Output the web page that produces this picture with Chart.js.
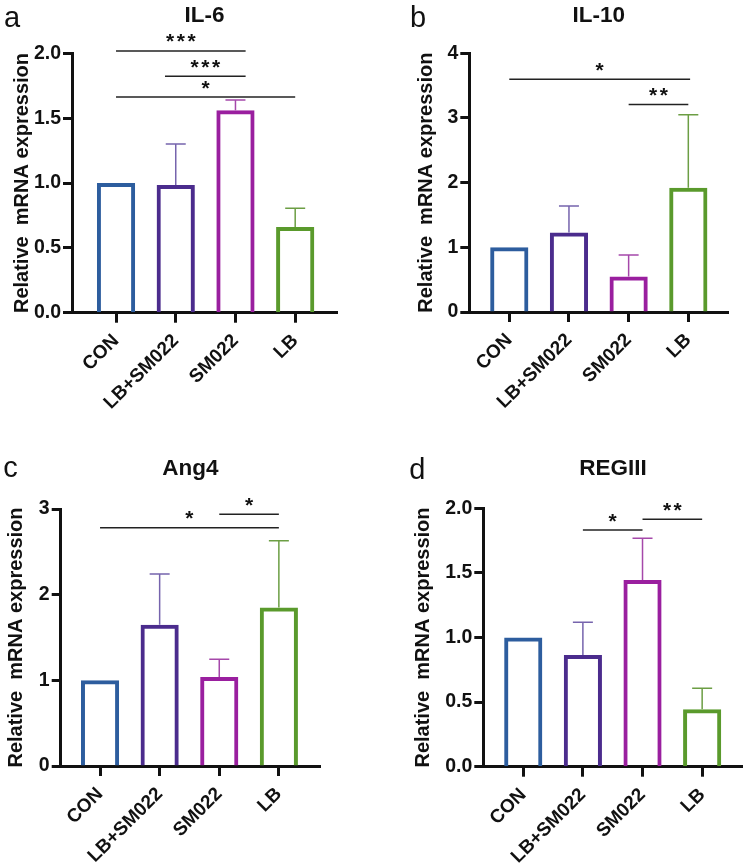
<!DOCTYPE html>
<html><head><meta charset="utf-8">
<script src="https://cdn.jsdelivr.net/npm/chart.js@4.4.1/dist/chart.umd.min.js"></script>
<style>
html,body{margin:0;padding:0;background:#fff;}
#wrap{position:relative;width:749px;height:868px;background:#fff;}
canvas{position:absolute;display:block;}
</style></head><body>
<div id="wrap">
<canvas id="cA" width="374" height="434" style="left:0;top:0;width:374px;height:434px"></canvas>
<canvas id="cB" width="375" height="434" style="left:374px;top:0;width:375px;height:434px"></canvas>
<canvas id="cC" width="374" height="434" style="left:0;top:434px;width:374px;height:434px"></canvas>
<canvas id="cD" width="375" height="434" style="left:374px;top:434px;width:375px;height:434px"></canvas>
</div>
<script>
// ---------- data ----------
const categories = ['CON', 'LB+SM022', 'SM022', 'LB'];

const il6Mean = [1.00, 0.985, 1.56, 0.66];
const il6Err  = [0, 0.315, 0.08, 0.145];
const il6YTicks = ['0.0', '0.5', '1.0', '1.5', '2.0'];
// [from index, to index, bracket level (y units), label]
const il6Sig = [[0, 2.17, 2.018, '***'], [0.82, 2.17, 1.823, '***'], [0, 3, 1.663, '*']];

const il10Mean = [1.00, 1.23, 0.55, 1.92];
const il10Err  = [0, 0.41, 0.33, 1.13];
const il10YTicks = ['0', '1', '2', '3', '4'];
const il10Sig = [[0, 3.03, 3.60, '*'], [2, 3, 3.21, '**']];

const ang4Mean = [1.00, 1.65, 1.04, 1.85];
const ang4Err  = [0, 0.59, 0.205, 0.78];
const ang4YTicks = ['0', '1', '2', '3'];
const ang4Sig = [[0, 3, 2.78, '*'], [2, 3, 2.94, '*']];

const reg3Mean = [1.00, 0.865, 1.445, 0.445];
const reg3Err  = [0, 0.253, 0.323, 0.162];
const reg3YTicks = ['0.0', '0.5', '1.0', '1.5', '2.0'];
const reg3Sig = [[1, 2, 1.832, '*'], [2, 3, 1.915, '**']];

// ---------- style ----------
const FONT = "'Liberation Sans', Arial, sans-serif";
const barColors = ['#2d5d9e', '#4b2c8d', '#9a1f9f', '#5a9a2c'];
const errColors = ['#2d5d9e', '#7664ad', '#a548aa', '#6c9e44'];
const INK = '#111111';

const panels = [
  {id:'cA', letter:'a', title:'IL-6', mean:il6Mean, err:il6Err, yTicks:il6YTicks, sig:il6Sig,
   pad:{left:72, right:37, top:53.3, bottom:121.3}, xMin:-0.737, xMax:3.70,
   letterPos:[4, 27], titleY:21.7, yTitleMid:22},
  {id:'cB', letter:'b', title:'IL-10', mean:il10Mean, err:il10Err, yTicks:il10YTicks, sig:il10Sig,
   pad:{left:95.3, right:20.7, top:53.3, bottom:122}, xMin:-0.67, xMax:3.67,
   letterPos:[36, 26.7], titleY:21.7, yTitleMid:52.5},
  {id:'cC', letter:'c', title:'Ang4', mean:ang4Mean, err:ang4Err, yTicks:ang4YTicks, sig:ang4Sig,
   pad:{left:60.7, right:54, top:75, bottom:102}, xMin:-0.66, xMax:3.69,
   letterPos:[3.3, 42.7], titleY:41, yTitleMid:16.5},
  {id:'cD', letter:'d', title:'REGIII', mean:reg3Mean, err:reg3Err, yTicks:reg3YTicks, sig:reg3Sig,
   pad:{left:109.3, right:6.3, top:74.3, bottom:101.3}, xMin:-0.67, xMax:3.68,
   letterPos:[35.3, 45], titleY:41, yTitleMid:49.2}
];

function makePlugin(p) {
  return {
    id: 'annot_' + p.id,
    beforeDatasetsDraw(chart) {
      const ctx = chart.ctx, xs = chart.scales.x, ys = chart.scales.y;
      ctx.save();
      ctx.lineWidth = 1.5;
      p.mean.forEach((m, i) => {
        if (!p.err[i]) return;
        const x = xs.getPixelForValue(i);
        const y0 = ys.getPixelForValue(m);
        const y1 = ys.getPixelForValue(m + p.err[i]);
        ctx.strokeStyle = errColors[i];
        ctx.beginPath();
        ctx.moveTo(x, y0); ctx.lineTo(x, y1);
        ctx.moveTo(x - 10, y1); ctx.lineTo(x + 10, y1);
        ctx.stroke();
      });
      ctx.restore();
    },
    afterDraw(chart) {
      const ctx = chart.ctx, xs = chart.scales.x, ys = chart.scales.y, ca = chart.chartArea;
      ctx.save();
      // significance brackets
      ctx.strokeStyle = '#222';
      ctx.lineWidth = 1.5;
      p.sig.forEach(s => {
        const x1 = xs.getPixelForValue(s[0]), x2 = xs.getPixelForValue(s[1]);
        const y = ys.getPixelForValue(s[2]);
        ctx.beginPath(); ctx.moveTo(x1, y); ctx.lineTo(x2, y); ctx.stroke();
        ctx.fillStyle = INK;
        ctx.font = 'bold 21px ' + FONT;
        ctx.letterSpacing = '2.5px';
        ctx.textAlign = 'center';
        ctx.textBaseline = 'alphabetic';
        ctx.fillText(s[3], (x1 + x2) / 2 + 1.25, y - 2.5);
        ctx.letterSpacing = '0px';
      });
      // title
      ctx.fillStyle = INK;
      ctx.font = 'bold 22.5px ' + FONT;
      ctx.textAlign = 'center';
      ctx.textBaseline = 'alphabetic';
      ctx.fillText(p.title, (ca.left + ca.right) / 2, p.titleY);
      // panel letter
      ctx.font = '29px ' + FONT;
      ctx.textAlign = 'left';
      ctx.fillText(p.letter, p.letterPos[0], p.letterPos[1]);
      ctx.restore();
    }
  };
}

panels.forEach(p => {
  const yMax = parseFloat(p.yTicks[p.yTicks.length - 1]);
  new Chart(document.getElementById(p.id), {
    type: 'bar',
    data: {
      datasets: [{
        data: p.mean.map((v, i) => ({x: i, y: v})),
        borderColor: barColors,
        backgroundColor: 'rgba(255,255,255,0)',
        borderWidth: 4,
        barPercentage: 0.64,
        categoryPercentage: 1
      }]
    },
    options: {
      responsive: false,
      animation: false,
      devicePixelRatio: 1,
      layout: {padding: {left: 0, right: p.pad.right, top: p.pad.top, bottom: 0}},
      plugins: {legend: {display: false}, tooltip: {enabled: false}, title: {display: false}},
      scales: {
        x: {
          type: 'linear', min: p.xMin, max: p.xMax, offset: false,
          afterBuildTicks: s => { s.ticks = categories.map((c, i) => ({value: i})); },
          afterFit: s => { s.height = p.pad.bottom; },
          ticks: {
            autoSkip: false, maxRotation: 45, minRotation: 45, padding: 7, color: INK,
            font: {family: FONT, size: 19, weight: 'bold'},
            callback: (v, i) => categories[i]
          },
          grid: {display: true, drawOnChartArea: false, drawTicks: true, tickLength: 10,
                 tickWidth: 3, tickColor: INK, offset: false},
          border: {display: true, color: INK, width: 3}
        },
        y: {
          type: 'linear', min: 0, max: yMax,
          afterBuildTicks: s => { s.ticks = p.yTicks.map(t => ({value: parseFloat(t)})); },
          afterFit: s => { s.width = p.pad.left; },
          ticks: {
            padding: 2, color: INK,
            font: {family: FONT, size: 19.5, weight: 'bold'},
            callback: (v, i) => p.yTicks[i]
          },
          grid: {display: true, drawOnChartArea: false, drawTicks: true, tickLength: 9,
                 tickWidth: 3, tickColor: INK},
          border: {display: true, color: INK, width: 3},
          title: {
            display: true, text: 'Relative  mRNA expression', color: INK,
            font: {family: FONT, size: 20, weight: 'bold', lineHeight: 1.2},
            padding: {top: p.yTitleMid - 12, bottom: 0}
          }
        }
      }
    },
    plugins: [makePlugin(p)]
  });
});
</script>
</body></html>
